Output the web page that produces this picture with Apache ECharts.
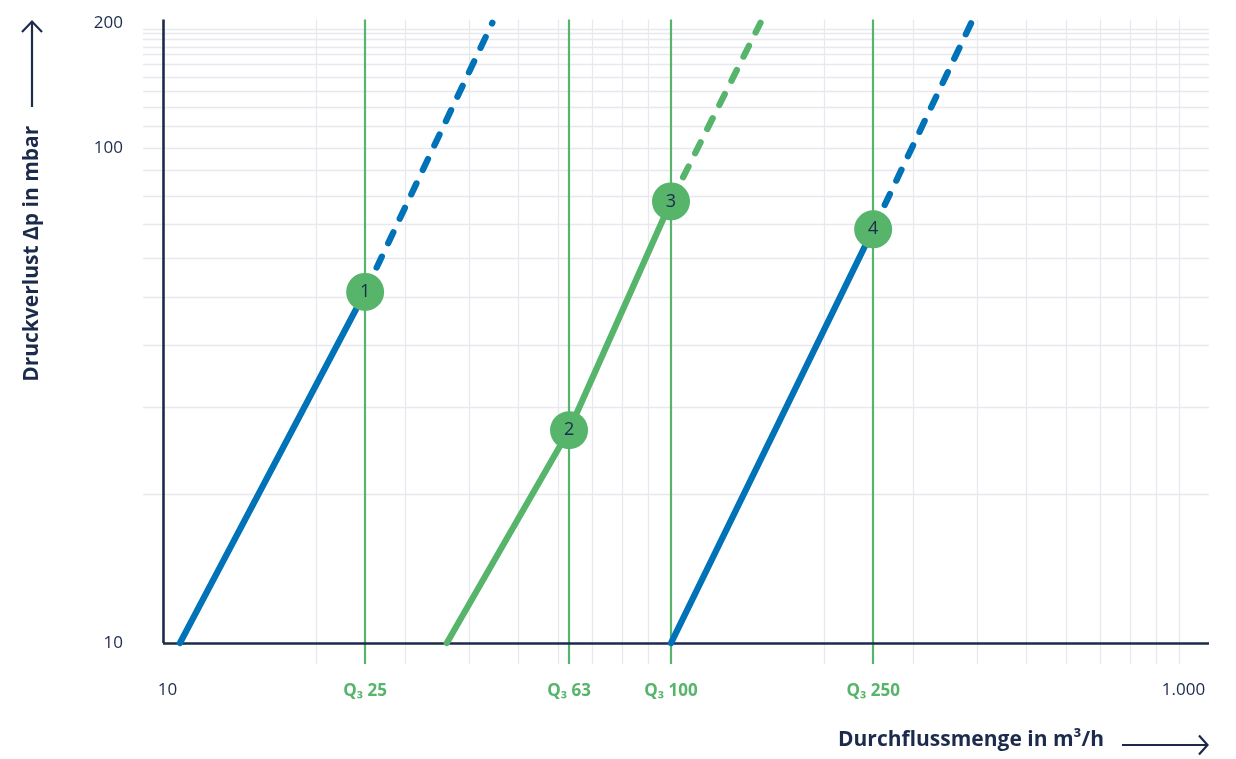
<!DOCTYPE html>
<html>
<head>
<meta charset="utf-8">
<script src="https://cdn.jsdelivr.net/npm/echarts@6/dist/echarts.min.js"></script>
<style>
html,body{margin:0;padding:0;background:#ffffff;}
#chart{width:1236px;height:759px;}
</style>
</head>
<body>
<div id="chart"></div>
<script>
// ---- data ----
const qValues = [25, 63, 100, 250];
const qLabels = ['Q₃ 25', 'Q₃ 63', 'Q₃ 100', 'Q₃ 250'];

const xTickValues = [10, 1000];
const xTickLabels = ['10', '1.000'];
const yTickValues = [10, 100];
const yTickLabels = ['10', '100'];
const yTopTickValues = [200];
const yTopTickLabels = ['200'];

const xGridValues = [20, 30, 40, 50, 60, 70, 80, 90, 200, 300, 400, 500, 600, 700, 800, 900, 1000];
const yGridValues = [20, 30, 40, 50, 60, 70, 80, 90, 100, 110.8, 120.7, 130.4, 139.1, 147.4, 154.4, 159.7, 165.6, 170.8, 173.5];

// curves: last segment (from the numbered point on) is dashed
const curve1Flow = [10.8, 25, 44.5];
const curve1Loss = [10, 51.2, 179];
const curve2Flow = [36.2, 63, 100, 150];
const curve2Loss = [10, 26.9, 78, 179];
const curve3Flow = [100, 250, 390];
const curve3Loss = [10, 68.5, 179];

const pointFlow = [25, 63, 100, 250];
const pointLoss = [51.2, 26.9, 78, 68.5];
const pointLabels = ['1', '2', '3', '4'];

// ---- styling / layout ----
const NAVY = '#1c2a4c';
const BLUE = '#0072b8';
const GREEN = '#56b46b';
const GRID = '#e8e8ef';
const FONT = '"Open Sans", "Noto Sans", sans-serif';

const X_MIN = 9.134, X_MAX = 1145.6;
const Y_MIN = 9.07, Y_MAX = 181.8, Y_TOP_AXIS_MAX = 200;

function pick(values, labels, v) {
  for (let i = 0; i < values.length; i++) {
    if (Math.abs(v - values[i]) / values[i] < 1e-3) return labels[i];
  }
  return '';
}
function zip(a, b) { return a.map((v, i) => [v, b[i]]); }

function curveSeries(flow, loss, color) {
  const pts = zip(flow, loss);
  const n = pts.length;
  return [
    {
      type: 'line', xAxisIndex: 0, yAxisIndex: 0, z: 10,
      data: pts.slice(0, n - 1), symbol: 'none', silent: true,
      lineStyle: { color: color, width: 6.3, cap: 'round' }
    },
    {
      type: 'line', xAxisIndex: 0, yAxisIndex: 0, z: 10,
      data: pts.slice(n - 2), symbol: 'none', silent: true,
      lineStyle: { color: color, width: 6.3, cap: 'round', type: [12, 15] }
    }
  ];
}

const chart = echarts.init(document.getElementById('chart'), null, { renderer: 'canvas' });

const option = {
  animation: false,
  backgroundColor: '#ffffff',
  grid: { left: 143, right: 27, top: 19.5, bottom: 95, containLabel: false },
  xAxis: [{
    type: 'log', logBase: 10, min: X_MIN, max: X_MAX,
    name: 'Durchflussmenge in m³/h',
    nameLocation: 'middle', nameGap: 66,
    nameTextStyle: { fontFamily: FONT, fontWeight: 'bold', fontSize: 21, color: NAVY, padding: [0, 0, 0, 590] },
    axisLine: { show: false }, axisTick: { show: false }, splitLine: { show: false },
    axisLabel: {
      margin: 18, fontFamily: FONT, fontSize: 17, color: NAVY, padding: [0, 0, 0, 9],
      formatter: v => pick(xTickValues, xTickLabels, v)
    }
  }],
  yAxis: [{
    type: 'log', logBase: 10, min: Y_MIN, max: Y_MAX, position: 'left',
    name: 'Druckverlust Δp in mbar',
    nameLocation: 'middle', nameGap: 100,
    nameTextStyle: { fontFamily: FONT, fontWeight: 'bold', fontSize: 21, color: NAVY, padding: [0, 0, 0, 176] },
    axisLine: { show: false }, axisTick: { show: false }, splitLine: { show: false },
    axisLabel: {
      margin: 20, fontFamily: FONT, fontSize: 17, color: NAVY,
      formatter: v => pick(yTickValues, yTickLabels, v)
    }
  }, {
    type: 'log', logBase: 10, min: Y_MIN, max: Y_TOP_AXIS_MAX, position: 'left', offset: 0,
    axisLine: { show: false }, axisTick: { show: false }, splitLine: { show: false },
    axisLabel: {
      margin: 20, fontFamily: FONT, fontSize: 17, color: NAVY,
      verticalAlign: 'top', lineHeight: 7,
      formatter: v => pick(yTopTickValues, yTopTickLabels, v)
    }
  }],
  graphic: [
    { type: 'line', shape: { x1: 32, y1: 107, x2: 32, y2: 22 }, style: { stroke: NAVY, lineWidth: 2.2 }, silent: true },
    { type: 'polyline', shape: { points: [[22, 32], [32, 21.5], [42, 32]] }, style: { stroke: NAVY, lineWidth: 2.2, fill: null }, silent: true },
    { type: 'line', shape: { x1: 1122, y1: 745, x2: 1207, y2: 745 }, style: { stroke: NAVY, lineWidth: 2.2 }, silent: true },
    { type: 'polyline', shape: { points: [[1199, 735.5], [1207.5, 745], [1199, 754.5]] }, style: { stroke: NAVY, lineWidth: 2.2, fill: null }, silent: true }
  ],
  series: [
    // light grid lines
    {
      type: 'line', xAxisIndex: 0, yAxisIndex: 0, data: [], z: 1, silent: true,
      markLine: {
        z: 1, silent: true, symbol: ['none', 'none'], animation: false,
        label: { show: false },
        lineStyle: { color: GRID, width: 1.3, type: 'solid' },
        emphasis: { disabled: true },
        data: xGridValues.map(v => ({ xAxis: v })).concat(yGridValues.map(v => ({ yAxis: v })))
      }
    },
    // Q3 lines
    {
      type: 'line', xAxisIndex: 0, yAxisIndex: 0, data: [], z: 2, silent: true,
      markLine: {
        z: 2, silent: true, symbol: ['none', 'none'], animation: false,
        lineStyle: { color: GREEN, width: 2.2, type: 'solid' },
        emphasis: { disabled: true },
        label: {
          show: true, position: 'start', distance: 19,
          fontFamily: FONT, fontWeight: 'bold', fontSize: 17, color: GREEN
        },
        data: qValues.map((v, i) => ({ xAxis: v, label: { formatter: qLabels[i] } }))
      }
    },
    // axis lines at 10 / 10
    {
      type: 'line', xAxisIndex: 0, yAxisIndex: 0, data: [], z: 3, silent: true,
      markLine: {
        z: 3, silent: true, symbol: ['none', 'none'], animation: false,
        label: { show: false },
        lineStyle: { color: NAVY, width: 2.6, type: 'solid' },
        emphasis: { disabled: true },
        data: [
          [{ coord: [xTickValues[0], yTickValues[0]] }, { coord: [X_MAX, yTickValues[0]] }],
          [{ coord: [xTickValues[0], yTickValues[0]] }, { coord: [xTickValues[0], Y_MAX] }]
        ]
      }
    },
    ...curveSeries(curve1Flow, curve1Loss, BLUE),
    ...curveSeries(curve2Flow, curve2Loss, GREEN),
    ...curveSeries(curve3Flow, curve3Loss, BLUE),
    {
      type: 'scatter', xAxisIndex: 0, yAxisIndex: 0, z: 12, silent: true,
      symbol: 'circle', symbolSize: 38,
      itemStyle: { color: GREEN, opacity: 1 },
      label: {
        show: true, position: 'inside', fontFamily: FONT, fontSize: 18, color: NAVY,
        formatter: p => pointLabels[p.dataIndex]
      },
      data: zip(pointFlow, pointLoss)
    }
  ]
};
chart.setOption(option);
</script>
</body>
</html>
